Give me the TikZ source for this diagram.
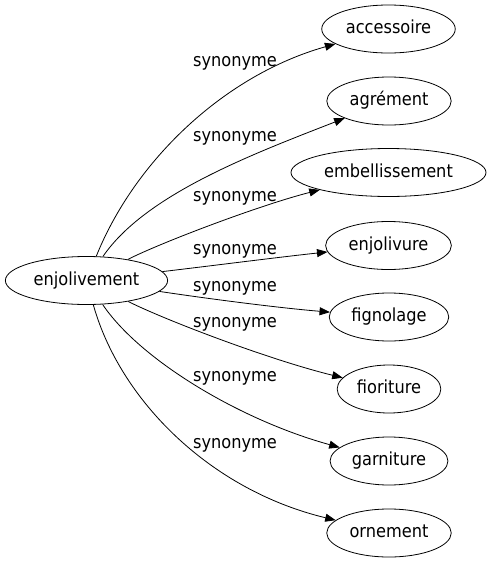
\documentclass[tikz,border=0pt]{standalone}
\usepackage{fontspec}
\setmainfont{DejaVu Sans Condensed}
\usetikzlibrary{shapes.geometric,arrows.meta,positioning}

\tikzset{
  mot/.style={draw, ellipse, line width=0.8pt, inner xsep=4.6pt, minimum height=48pt,
    text height=13pt, text depth=4pt, font=\fontsize{18}{21}\selectfont},
  syn/.style={inner sep=0pt, text height=13pt, text depth=4pt,
    font=\fontsize{18}{21}\selectfont},
  lien/.style={line width=0.8pt, -{Triangle[length=10.5pt,width=8pt]}}
}

\begin{document}
\begin{tikzpicture}[x=1pt, y=-1pt]
    \useasboundingbox (0,0) rectangle (489,563);

    \node[mot] (enj) at (86.5,280.5) {enjolivement};
    \node[mot] (acc) at (388.5,29) {accessoire};
    \node[mot] (agr) at (389,101) {agrément};
    \node[mot] (emb) at (388.5,172.5) {embellissement};
    \node[mot] (jol) at (388.5,245.5) {enjolivure};
    \node[mot] (fig) at (389,317) {fignolage};
    \node[mot] (fio) at (389,389) {fioriture};
    \node[mot] (gar) at (389,461) {garniture};
    \node[mot] (orn) at (389,533) {ornement};

    \draw[lien] (enj) .. controls (135,160) and (225,75) .. (acc);
    \draw[lien] (enj) .. controls (145,195) and (250,155) .. (agr);
    \draw[lien] (enj) .. controls (160,243) and (260,205) .. (emb);
    \draw[lien] (enj) .. controls (210,266) and (280,257) .. (jol);
    \draw[lien] (enj) .. controls (210,299) and (280,308) .. (fig);
    \draw[lien] (enj) .. controls (165,320) and (270,360) .. (fio);
    \draw[lien] (enj) .. controls (140,360) and (240,420) .. (gar);
    \draw[lien] (enj) .. controls (120,400) and (210,490) .. (orn);

    \node[syn] (s1) at (235,62) {synonyme};
    \node[syn] (s2) at (235,137) {synonyme};
    \node[syn] (s3) at (235,197) {synonyme};
    \node[syn] (s4) at (235,250) {synonyme};
    \node[syn] (s5) at (235,287) {synonyme};
    \node[syn] (s6) at (235,323) {synonyme};
    \node[syn] (s7) at (235,377) {synonyme};
    \node[syn] (s8) at (235,444) {synonyme};
\end{tikzpicture}
\end{document}
